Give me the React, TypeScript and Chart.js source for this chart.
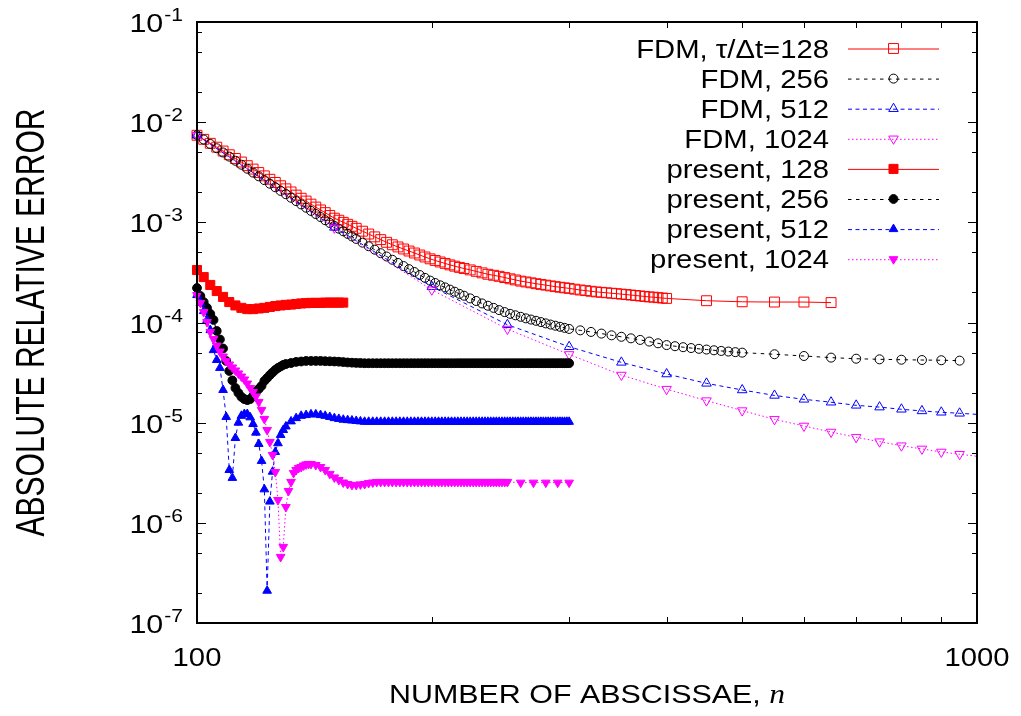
import React, { useEffect, useRef } from "react";
import { Chart, registerables } from "chart.js";

Chart.register(...registerables);

const range = (from: number, to: number, step: number): number[] => {
  const out: number[] = [];
  for (let v = from; v <= to + 1e-9; v += step) out.push(v);
  return out;
};

// ---------- abscissae (n) ----------
const nFdmDense = [...range(100, 160, 2), ...range(163, 220, 3), ...range(224, 300, 4), ...range(305, 400, 5)];
const nFdm256Dense = [...range(100, 160, 2), ...range(163, 220, 3), ...range(224, 300, 4)];
const nFdm128Tail = [450, 500, 550, 600, 650];
const nFdm256Tail = [...range(310, 500, 10), ...range(550, 950, 50)];
const nFdmSparse = range(100, 1000, 50);
const nPresent128 = range(100, 154, 2);
const nPresent = [...range(100, 130, 1), ...range(132, 300, 2)];
const nPresent1024 = [...range(100, 140, 1), ...range(142, 250, 2), ...range(260, 300, 10)];

// ---------- FDM, tau/dt = 128 ----------
const fdm128Dense = [
  7.4e-3, 6.74e-3, 6.15e-3, 5.63e-3, 5.15e-3, 4.73e-3, 4.34e-3, 4.0e-3, 3.68e-3, 3.4e-3,
  3.14e-3, 2.91e-3, 2.69e-3, 2.5e-3, 2.32e-3, 2.16e-3, 2.01e-3, 1.87e-3, 1.74e-3, 1.63e-3,
  1.52e-3, 1.42e-3, 1.33e-3, 1.25e-3, 1.17e-3, 1.1e-3, 1.05e-3, 1.0e-3, 9.56e-4, 9.13e-4, 8.72e-4,
  8.16e-4, 7.64e-4, 7.16e-4, 6.72e-4, 6.32e-4, 5.97e-4, 5.68e-4, 5.42e-4, 5.17e-4, 4.94e-4,
  4.72e-4, 4.51e-4, 4.32e-4, 4.16e-4, 4.02e-4, 3.89e-4, 3.76e-4, 3.65e-4, 3.55e-4, 3.46e-4,
  3.35e-4, 3.24e-4, 3.13e-4, 3.03e-4, 2.96e-4, 2.89e-4, 2.81e-4, 2.73e-4, 2.66e-4, 2.59e-4,
  2.54e-4, 2.49e-4, 2.44e-4, 2.4e-4, 2.36e-4, 2.32e-4, 2.28e-4, 2.25e-4, 2.22e-4, 2.19e-4,
  2.15e-4, 2.11e-4, 2.08e-4, 2.05e-4, 2.02e-4, 2.0e-4, 1.98e-4, 1.96e-4, 1.94e-4, 1.92e-4,
  1.9e-4, 1.88e-4, 1.86e-4, 1.84e-4, 1.82e-4, 1.8e-4, 1.79e-4, 1.77e-4, 1.755e-4, 1.74e-4,
];
const fdm128Tail = [1.65e-4, 1.61e-4, 1.6e-4, 1.6e-4, 1.58e-4];

// ---------- FDM, 256 ----------
const fdm256Dense = [
  7.44e-3, 6.71e-3, 6.06e-3, 5.49e-3, 4.98e-3, 4.53e-3, 4.12e-3, 3.76e-3, 3.43e-3, 3.14e-3,
  2.88e-3, 2.64e-3, 2.43e-3, 2.24e-3, 2.06e-3, 1.91e-3, 1.76e-3, 1.63e-3, 1.51e-3, 1.4e-3,
  1.3e-3, 1.21e-3, 1.13e-3, 1.05e-3, 9.85e-4, 9.2e-4, 8.65e-4, 8.14e-4, 7.67e-4, 7.23e-4, 6.83e-4,
  6.27e-4, 5.77e-4, 5.33e-4, 4.92e-4, 4.56e-4, 4.23e-4, 3.93e-4, 3.66e-4, 3.41e-4, 3.19e-4,
  2.98e-4, 2.79e-4, 2.62e-4, 2.48e-4, 2.35e-4, 2.24e-4, 2.13e-4, 2.03e-4, 1.93e-4, 1.85e-4,
  1.74e-4, 1.64e-4, 1.55e-4, 1.47e-4, 1.4e-4, 1.33e-4, 1.27e-4, 1.22e-4, 1.18e-4, 1.14e-4,
  1.1e-4, 1.07e-4, 1.04e-4, 1.01e-4, 9.8e-5, 9.54e-5, 9.29e-5, 9.06e-5, 8.84e-5, 8.63e-5,
];
const fdm256Tail = [
  8.35e-5, 8.05e-5, 7.75e-5, 7.45e-5, 7.2e-5, 6.95e-5, 6.7e-5, 6.45e-5, 6.2e-5, 5.95e-5,
  5.8e-5, 5.67e-5, 5.56e-5, 5.46e-5, 5.37e-5, 5.28e-5, 5.2e-5, 5.13e-5, 5.06e-5, 5.0e-5,
  4.82e-5, 4.63e-5, 4.46e-5, 4.35e-5, 4.29e-5, 4.25e-5, 4.22e-5, 4.2e-5, 4.16e-5,
];

// ---------- FDM, 512 and 1024 (n = 100, 150, ..., 1000) ----------
const fdm512 = [
  7.4e-3, 8.9e-4, 2.28e-4, 9.5e-5, 5.73e-5, 4.0e-5, 3.06e-5, 2.47e-5, 2.12e-5, 1.87e-5,
  1.71e-5, 1.6e-5, 1.49e-5, 1.43e-5, 1.36e-5, 1.31e-5, 1.27e-5, 1.24e-5, 1.21e-5,
];
const fdm1024 = [
  7.4e-3, 8.8e-4, 2.12e-4, 8.6e-5, 4.8e-5, 2.99e-5, 2.16e-5, 1.66e-5, 1.32e-5, 1.08e-5,
  9.27e-6, 8.07e-6, 7.14e-6, 6.46e-6, 5.89e-6, 5.47e-6, 5.1e-6, 4.84e-6, 4.62e-6,
];

// ---------- present, 128 ----------
const present128 = [
  3.34e-4, 2.84e-4, 2.37e-4, 2.06e-4, 1.8e-4, 1.6e-4, 1.48e-4, 1.4e-4, 1.36e-4, 1.36e-4,
  1.38e-4, 1.4e-4, 1.43e-4, 1.46e-4, 1.48e-4, 1.5e-4, 1.51e-4, 1.53e-4, 1.55e-4, 1.56e-4,
  1.57e-4, 1.57e-4, 1.57e-4, 1.58e-4, 1.58e-4, 1.58e-4, 1.58e-4, 1.58e-4,
];

// ---------- present, 256 ----------
const present256 = [
  2.21e-4, 1.84e-4, 1.6e-4, 1.4e-4, 1.22e-4, 1.06e-4, 8.23e-5, 6.77e-5, 5.5e-5, 4.13e-5,
  3.28e-5, 2.64e-5, 2.22e-5, 1.98e-5, 1.81e-5, 1.72e-5, 1.68e-5, 1.72e-5, 1.85e-5, 2.03e-5,
  2.17e-5, 2.33e-5, 2.61e-5, 2.79e-5, 2.99e-5, 3.17e-5, 3.36e-5, 3.52e-5, 3.64e-5, 3.77e-5, 3.85e-5,
  3.94e-5, 4.04e-5, 4.08e-5, 4.13e-5, 4.13e-5, 4.13e-5, 4.13e-5, 4.11e-5, 4.1e-5, 4.08e-5,
  4.06e-5, 4.03e-5, 3.99e-5, 3.97e-5, 3.95e-5, 3.94e-5,
  3.92e-5, 3.92e-5, 3.92e-5, 3.92e-5, 3.92e-5, 3.92e-5, 3.92e-5, 3.92e-5, 3.92e-5, 3.92e-5,
  3.92e-5, 3.92e-5, 3.92e-5, 3.92e-5, 3.92e-5, 3.92e-5, 3.92e-5, 3.92e-5, 3.92e-5, 3.92e-5,
  3.92e-5, 3.92e-5, 3.92e-5, 3.92e-5, 3.92e-5, 3.92e-5, 3.92e-5, 3.92e-5, 3.92e-5, 3.92e-5,
  3.92e-5, 3.92e-5, 3.92e-5, 3.92e-5, 3.92e-5, 3.92e-5, 3.92e-5, 3.92e-5, 3.92e-5, 3.92e-5,
  3.92e-5, 3.92e-5, 3.92e-5, 3.92e-5, 3.92e-5, 3.92e-5, 3.92e-5, 3.92e-5, 3.92e-5, 3.92e-5,
  3.92e-5, 3.92e-5, 3.92e-5, 3.92e-5, 3.92e-5, 3.92e-5, 3.92e-5, 3.92e-5, 3.92e-5, 3.92e-5,
  3.92e-5, 3.92e-5, 3.92e-5, 3.92e-5, 3.92e-5, 3.92e-5, 3.92e-5, 3.92e-5, 3.92e-5,
];

// ---------- present, 512 ----------
const present512 = [
  1.88e-4, 1.57e-4, 1.3e-4, 1.06e-4, 8.4e-5, 5.3e-5, 4.22e-5, 3.52e-5, 2.12e-5, 1.14e-5,
  3.37e-6, 2.81e-6, 7.03e-6, 1.0e-5, 1.17e-5, 1.22e-5, 1.22e-5, 1.13e-5, 9.7e-6, 7.95e-6,
  6.13e-6, 4.15e-6, 2.16e-6, 2.1e-7, 1.63e-6, 3.24e-6, 5.1e-6, 6.23e-6, 7.54e-6, 8.45e-6, 9.16e-6,
  1.03e-5, 1.11e-5, 1.17e-5, 1.19e-5, 1.21e-5, 1.21e-5, 1.19e-5, 1.17e-5, 1.14e-5, 1.11e-5,
  1.09e-5, 1.07e-5, 1.06e-5, 1.05e-5, 1.04e-5, 1.03e-5,
  1.02e-5, 1.02e-5, 1.02e-5, 1.02e-5, 1.02e-5, 1.02e-5, 1.02e-5, 1.02e-5, 1.02e-5, 1.02e-5,
  1.02e-5, 1.02e-5, 1.02e-5, 1.02e-5, 1.02e-5, 1.02e-5, 1.02e-5, 1.02e-5, 1.02e-5, 1.02e-5,
  1.02e-5, 1.02e-5, 1.02e-5, 1.02e-5, 1.02e-5, 1.02e-5, 1.02e-5, 1.02e-5, 1.02e-5, 1.02e-5,
  1.02e-5, 1.02e-5, 1.02e-5, 1.02e-5, 1.02e-5, 1.02e-5, 1.02e-5, 1.02e-5, 1.02e-5, 1.02e-5,
  1.02e-5, 1.02e-5, 1.02e-5, 1.02e-5, 1.02e-5, 1.02e-5, 1.02e-5, 1.02e-5, 1.02e-5, 1.02e-5,
  1.02e-5, 1.02e-5, 1.02e-5, 1.02e-5, 1.02e-5, 1.02e-5, 1.02e-5, 1.02e-5, 1.02e-5, 1.02e-5,
  1.02e-5, 1.02e-5, 1.02e-5, 1.02e-5, 1.02e-5, 1.02e-5, 1.02e-5, 1.02e-5, 1.02e-5,
];

// ---------- present, 1024 ----------
const present1024 = [
  1.88e-4, 1.57e-4, 1.27e-4, 1.01e-4, 8.04e-5, 6.85e-5, 5.89e-5, 5.13e-5, 4.58e-5, 4.13e-5,
  3.81e-5, 3.56e-5, 3.32e-5, 3.1e-5, 2.89e-5, 2.7e-5, 2.46e-5, 2.22e-5, 2.02e-5, 1.83e-5,
  1.61e-5, 1.34e-5, 1.09e-5, 8.45e-6, 6.42e-6, 4.76e-6, 3.22e-6, 1.69e-6, 4.57e-7, 5.75e-7,
  1.44e-6, 2.08e-6, 2.56e-6, 3.15e-6, 3.37e-6, 3.53e-6, 3.61e-6, 3.74e-6, 3.83e-6, 3.87e-6, 3.87e-6,
  3.78e-6, 3.61e-6, 3.37e-6, 3.08e-6, 2.84e-6, 2.68e-6, 2.53e-6, 2.44e-6, 2.39e-6, 2.39e-6,
  2.42e-6, 2.44e-6, 2.5e-6, 2.53e-6,
  2.56e-6, 2.56e-6, 2.56e-6, 2.56e-6, 2.56e-6, 2.56e-6, 2.56e-6, 2.56e-6, 2.56e-6, 2.56e-6,
  2.56e-6, 2.56e-6, 2.56e-6, 2.56e-6, 2.56e-6, 2.56e-6, 2.56e-6, 2.56e-6, 2.56e-6, 2.56e-6,
  2.56e-6, 2.56e-6, 2.56e-6, 2.56e-6, 2.56e-6, 2.56e-6, 2.56e-6, 2.56e-6, 2.56e-6, 2.56e-6,
  2.56e-6, 2.56e-6, 2.56e-6, 2.56e-6, 2.56e-6, 2.56e-6, 2.56e-6, 2.56e-6, 2.56e-6, 2.56e-6,
  2.56e-6,
  2.52e-6, 2.52e-6, 2.52e-6, 2.52e-6, 2.52e-6,
];

const legendLabels = [
  "FDM, τ/Δt=128",
  "FDM, 256",
  "FDM, 512",
  "FDM, 1024",
  "present, 128",
  "present, 256",
  "present, 512",
  "present, 1024",
];
const yTitle = "ABSOLUTE RELATIVE ERROR";
const xTitleMain = "NUMBER OF ABSCISSAE, ";
const xTitleVar = "n";

const RED = "#ff0000";
const BLACK = "#000000";
const BLUE = "#0000ff";
const MAGENTA = "#ff00ff";

const SANS = '"Liberation Sans", Arial, Helvetica, sans-serif';
const SERIF_IT = '"Liberation Serif", "Times New Roman", serif';
const STRETCH = 1.17; // horizontal stretch of the reference lettering

type Style = {
  color: string;
  dash: number[];
  shape: "rect" | "circle" | "triangle";
  rot: number;
  r: number;
  filled: boolean;
};

const styles: Style[] = [
  { color: RED, dash: [], shape: "rect", rot: 0, r: 7, filled: false },
  { color: BLACK, dash: [3.5, 4.5], shape: "circle", rot: 0, r: 4.5, filled: false },
  { color: BLUE, dash: [4, 3.5], shape: "triangle", rot: 0, r: 5.5, filled: false },
  { color: MAGENTA, dash: [1.5, 2.5], shape: "triangle", rot: 180, r: 5.5, filled: false },
  { color: RED, dash: [], shape: "rect", rot: 0, r: 6.4, filled: true },
  { color: BLACK, dash: [3.5, 4.5], shape: "circle", rot: 0, r: 4.4, filled: true },
  { color: BLUE, dash: [4, 3.5], shape: "triangle", rot: 0, r: 5, filled: true },
  { color: MAGENTA, dash: [1.5, 2.5], shape: "triangle", rot: 180, r: 5, filled: true },
];

const pts = (ns: number[], vs: number[]) => ns.map((n, i) => ({ x: n, y: vs[i] }));

const seriesData = [
  pts([...nFdmDense, ...nFdm128Tail], [...fdm128Dense, ...fdm128Tail]),
  pts([...nFdm256Dense, ...nFdm256Tail], [...fdm256Dense, ...fdm256Tail]),
  pts(nFdmSparse, fdm512),
  pts(nFdmSparse, fdm1024),
  pts(nPresent128, present128),
  pts(nPresent, present256),
  pts(nPresent, present512),
  pts(nPresent1024, present1024),
];

function mantissa(v: number): { e: number; m: number | null } {
  const e = Math.floor(Math.log10(v) + 1e-9);
  const raw = v / Math.pow(10, e);
  const m = Math.abs(raw - Math.round(raw)) < 1e-6 ? Math.round(raw) : null;
  return { e, m };
}

// draws text with a horizontal stretch; returns drawn width
function sText(
  ctx: CanvasRenderingContext2D,
  text: string,
  x: number,
  y: number,
  font: string,
  sx: number,
  align: "left" | "right" | "center"
): number {
  ctx.save();
  ctx.font = font;
  const w = ctx.measureText(text).width * sx;
  const x0 = align === "left" ? x : align === "right" ? x - w : x - w / 2;
  ctx.translate(x0, y);
  ctx.scale(sx, 1);
  ctx.textAlign = "left";
  ctx.textBaseline = "alphabetic";
  ctx.fillStyle = "#000";
  ctx.fillText(text, 0, 0);
  ctx.restore();
  return w;
}

function textWidth(ctx: CanvasRenderingContext2D, text: string, font: string, sx: number) {
  ctx.save();
  ctx.font = font;
  const w = ctx.measureText(text).width * sx;
  ctx.restore();
  return w;
}

function drawMarker(ctx: CanvasRenderingContext2D, s: Style, x: number, y: number) {
  ctx.beginPath();
  if (s.shape === "rect") {
    const h = s.r * Math.SQRT1_2;
    ctx.rect(x - h, y - h, 2 * h, 2 * h);
  } else if (s.shape === "circle") {
    ctx.arc(x, y, s.r, 0, Math.PI * 2);
  } else {
    let a = (s.rot * Math.PI) / 180;
    ctx.moveTo(x + Math.sin(a) * s.r, y - Math.cos(a) * s.r);
    a += (2 * Math.PI) / 3;
    ctx.lineTo(x + Math.sin(a) * s.r, y - Math.cos(a) * s.r);
    a += (2 * Math.PI) / 3;
    ctx.lineTo(x + Math.sin(a) * s.r, y - Math.cos(a) * s.r);
    ctx.closePath();
  }
  if (s.filled) {
    ctx.fillStyle = s.color;
    ctx.fill();
  }
  ctx.strokeStyle = s.color;
  ctx.lineWidth = 1;
  ctx.stroke();
}

const framePlugin = {
  id: "gnuFrame",
  afterDatasetsDraw(chart: any) {
    const { ctx, chartArea: a, scales } = chart;
    ctx.save();
    ctx.strokeStyle = "#000";
    ctx.lineWidth = 1;
    const ys = scales.y;
    ys.ticks.forEach((t: any) => {
      const { m } = mantissa(t.value);
      let len = 0;
      if (m === 1 || m === 10) len = 9;
      else if (m === 2 || m === 5 || m === 8) len = 5;
      if (!len) return;
      const py = Math.round(ys.getPixelForValue(t.value)) + 0.5;
      ctx.beginPath();
      ctx.moveTo(a.left, py);
      ctx.lineTo(a.left + len, py);
      ctx.moveTo(a.right, py);
      ctx.lineTo(a.right - len, py);
      ctx.stroke();
    });
    const xs = scales.x;
    xs.ticks.forEach((t: any) => {
      const { m } = mantissa(t.value);
      if (m === null || m === 1 || m === 10) return;
      const len = 6;
      const px = Math.round(xs.getPixelForValue(t.value)) + 0.5;
      ctx.beginPath();
      ctx.moveTo(px, a.bottom);
      ctx.lineTo(px, a.bottom - len);
      ctx.moveTo(px, a.top);
      ctx.lineTo(px, a.top + len);
      ctx.stroke();
    });
    ctx.lineWidth = 2;
    ctx.strokeRect(a.left, a.top, a.right - a.left, a.bottom - a.top);
    ctx.restore();
  },
};

const LEGEND_Y0 = 48.5;
const LEGEND_DY = 30.1;
const LEGEND_TEXT_X = 829;
const LEGEND_LINE_X0 = 848;
const LEGEND_LINE_X1 = 939;

const textPlugin = {
  id: "gnuText",
  afterDraw(chart: any) {
    const ctx: CanvasRenderingContext2D = chart.ctx;
    const a = chart.chartArea;
    const ys = chart.scales.y;
    const xs = chart.scales.x;

    // y tick labels: 10 with raised exponent
    const baseFont = `26px ${SANS}`;
    const expFont = `18px ${SANS}`;
    ys.ticks.forEach((t: any) => {
      const { e, m } = mantissa(t.value);
      if (m !== 1) return;
      const py = ys.getPixelForValue(t.value);
      const exp = String(e);
      const we = textWidth(ctx, exp, expFont, STRETCH);
      const right = 183;
      sText(ctx, exp, right, py - 1, expFont, STRETCH, "right");
      sText(ctx, "10", right - we - 1, py + 10, baseFont, STRETCH, "right");
    });

    // x tick labels
    xs.ticks.forEach((t: any) => {
      const v = t.value;
      if (Math.abs(v - 100) > 1e-6 && Math.abs(v - 1000) > 1e-6) return;
      const px = xs.getPixelForValue(v);
      sText(ctx, String(Math.round(v)), px, 666, `25px ${SANS}`, STRETCH, "center");
    });

    // legend
    legendLabels.forEach((label, i) => {
      const s = styles[i];
      const y = LEGEND_Y0 + i * LEGEND_DY;
      sText(ctx, label, LEGEND_TEXT_X, y + 9, `25px ${SANS}`, STRETCH, "right");
      ctx.save();
      ctx.strokeStyle = s.color;
      ctx.lineWidth = 1;
      ctx.setLineDash(s.dash);
      ctx.beginPath();
      ctx.moveTo(LEGEND_LINE_X0, y + 0.5);
      ctx.lineTo(LEGEND_LINE_X1, y + 0.5);
      ctx.stroke();
      ctx.setLineDash([]);
      drawMarker(ctx, s, (LEGEND_LINE_X0 + LEGEND_LINE_X1) / 2, y);
      ctx.restore();
    });

    // x-axis title with italic n
    const f1 = `26px ${SANS}`;
    const f2 = `italic 27px ${SERIF_IT}`;
    const w1 = textWidth(ctx, xTitleMain, f1, STRETCH);
    const w2 = textWidth(ctx, xTitleVar, f2, STRETCH);
    const x0 = (a.left + a.right) / 2 - (w1 + w2) / 2;
    sText(ctx, xTitleMain, x0, 703, f1, STRETCH, "left");
    sText(ctx, xTitleVar, x0 + w1, 703, f2, STRETCH, "left");

    // y-axis title, rotated, lettering stretched across the page
    ctx.save();
    ctx.translate(29, (a.top + a.bottom) / 2);
    ctx.rotate(-Math.PI / 2);
    ctx.scale(1, 1.35);
    ctx.font = `30px ${SANS}`;
    ctx.textAlign = "center";
    ctx.textBaseline = "alphabetic";
    ctx.fillStyle = "#000";
    ctx.fillText(yTitle, 0, 11);
    ctx.restore();
  },
};

export default function App() {
  const ref = useRef<HTMLCanvasElement>(null);
  useEffect(() => {
    if (!ref.current) return;
    const datasets = seriesData.map((data, i) => {
      const s = styles[i];
      return {
        label: legendLabels[i],
        data,
        showLine: true,
        borderColor: s.color,
        backgroundColor: s.color,
        borderWidth: 1,
        borderDash: s.dash,
        tension: 0,
        pointStyle: s.shape,
        pointRotation: s.rot,
        pointRadius: (c: any) => (c.raw && c.raw.x >= 1000 ? 0 : s.r),
        pointHoverRadius: (c: any) => (c.raw && c.raw.x >= 1000 ? 0 : s.r),
        pointBorderColor: s.color,
        pointBackgroundColor: s.filled ? s.color : "rgba(0,0,0,0)",
        pointBorderWidth: 1,
        clip: false as const,
        order: 8 - i,
      };
    });
    const chart = new Chart(ref.current, {
      type: "scatter",
      data: { datasets },
      options: {
        responsive: false,
        maintainAspectRatio: false,
        animation: false,
        events: [],
        layout: { padding: { left: 0, top: 22, right: 44, bottom: 0 } },
        plugins: { legend: { display: false }, tooltip: { enabled: false } },
        scales: {
          x: {
            type: "logarithmic",
            min: 100,
            max: 1000,
            position: "bottom",
            border: { display: false },
            grid: { display: false },
            ticks: { display: false, autoSkip: false },
            afterFit: (s: any) => {
              s.height = 93;
            },
          },
          y: {
            type: "logarithmic",
            min: 1e-7,
            max: 1e-1,
            border: { display: false },
            grid: { display: false },
            ticks: { display: false, autoSkip: false },
            afterFit: (s: any) => {
              s.width = 197;
            },
          },
        },
      },
      plugins: [framePlugin, textPlugin],
    } as any);
    return () => chart.destroy();
  }, []);
  return (
    <div style={{ position: "absolute", left: 0, top: 0, width: 1021, height: 716, background: "#fff" }}>
      <canvas ref={ref} width={1021} height={716} style={{ display: "block", width: 1021, height: 716 }} />
    </div>
  );
}
